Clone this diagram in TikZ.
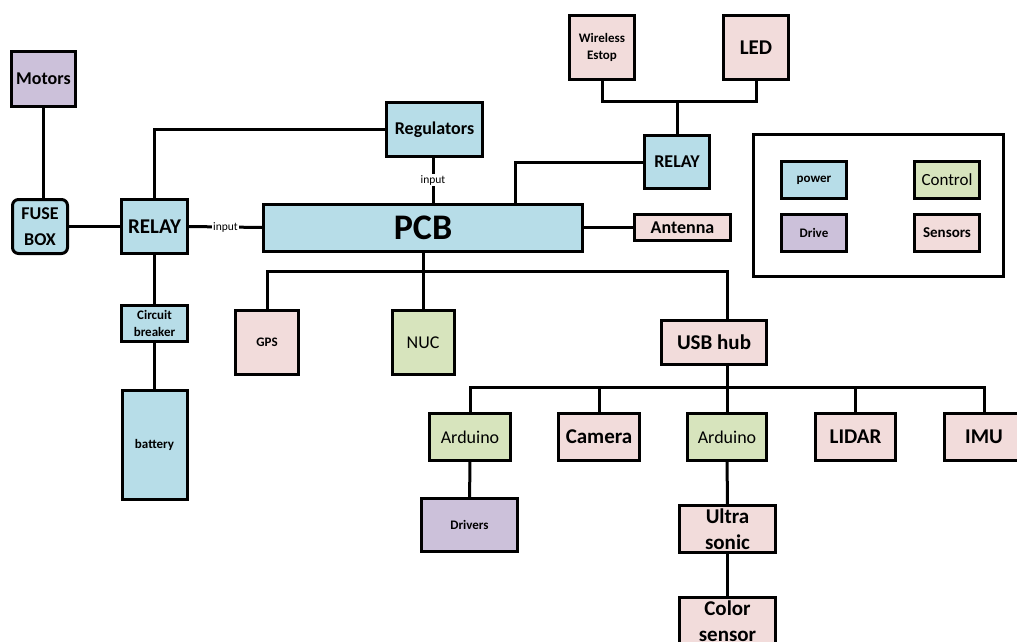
\documentclass[tikz,border=0pt]{standalone}
\usepackage{fontspec}
\setmainfont{Carlito}
\definecolor{powerblue}{HTML}{B7DDE8}
\definecolor{ctrlgreen}{HTML}{D7E4BD}
\definecolor{drivepurple}{HTML}{CCC1DA}
\definecolor{sensorpink}{HTML}{F2DCDB}
\tikzset{
    blk/.style={draw, line width=3pt, inner sep=1pt, align=center, font=\bfseries\fontsize{18}{26}\selectfont},
    pwr/.style={blk, fill=powerblue},
    ctrl/.style={blk, fill=ctrlgreen},
    drv/.style={blk, fill=drivepurple},
    sens/.style={blk, fill=sensorpink},
    wire/.style={draw, line width=3pt},
    inlbl/.style={fill=white, inner sep=1pt, font=\fontsize{11.5}{12}\selectfont},
    big/.style={font=\bfseries\fontsize{21}{26}\selectfont},
    small/.style={font=\bfseries\fontsize{13}{16.5}\selectfont},
    thin/.style={font=\fontsize{18}{22}\selectfont}
}
\begin{document}
\begin{tikzpicture}[x=1pt, y=-1pt]
            \useasboundingbox (0,0) rectangle (1017,642);
            \node [drv, minimum width=64pt, minimum height=55pt] (motors) at (43.5,79) {Motors};
            \node [pwr, rounded corners=6pt, minimum width=55pt, minimum height=54pt] (fusebox) at (40,226.5) {FUSE\\BOX};
            \node [pwr, big, minimum width=66pt, minimum height=54pt] (relayL) at (154.5,226.5) {RELAY};
            \node [pwr, small, minimum width=66pt, minimum height=36pt] (breaker) at (154.5,323.5) {Circuit\\breaker};
            \node [pwr, small, minimum width=65pt, minimum height=109pt] (battery) at (154.5,445) {battery};
            \node [pwr, minimum width=96pt, minimum height=54pt] (regulators) at (434.5,129.5) {Regulators};
            \node [pwr, font=\bfseries\fontsize{36}{40}\selectfont, minimum width=319pt, minimum height=47pt] (pcb) at (423,227.5) {PCB};
            \node [sens, small, minimum width=65pt, minimum height=64pt] (estop) at (602,47.5) {Wireless\\Estop};
            \node [sens, big, minimum width=65pt, minimum height=64pt] (led) at (756,47.5) {LED};
            \node [pwr, minimum width=65pt, minimum height=53pt] (relayR) at (677,162) {RELAY};
            \node [sens, minimum width=96pt, minimum height=26pt] (antenna) at (682.5,227.5) {Antenna};
            \node [draw, line width=3pt, minimum width=250pt, minimum height=142pt] (legend) at (878.5,205.5) {};
            \node [pwr, small, minimum width=65pt, minimum height=37pt] (kpower) at (814,180) {power};
            \node [ctrl, font=\fontsize{17}{20}\selectfont, minimum width=65pt, minimum height=37pt] (kcontrol) at (947,180) {Control};
            \node [drv, small, minimum width=65pt, minimum height=37pt] (kdrive) at (814,233) {Drive};
            \node [sens, font=\bfseries\fontsize{15}{18}\selectfont, minimum width=65pt, minimum height=37pt] (ksensors) at (947,233) {Sensors};
            \node [sens, small, minimum width=63pt, minimum height=64pt] (gps) at (267,342.5) {GPS};
            \node [ctrl, thin, minimum width=62pt, minimum height=64pt] (nuc) at (423,342.5) {NUC};
            \node [sens, big, minimum width=105pt, minimum height=44pt] (usbhub) at (714,342.5) {USB hub};
            \node [ctrl, thin, minimum width=81pt, minimum height=47pt] (arduinoA) at (470,437) {Arduino};
            \node [sens, big, minimum width=81pt, minimum height=47pt] (camera) at (599,437) {Camera};
            \node [ctrl, thin, minimum width=79pt, minimum height=47pt] (arduinoB) at (727,437) {Arduino};
            \node [sens, big, minimum width=80pt, minimum height=47pt] (lidar) at (855.5,437) {LIDAR};
            \node [sens, big, minimum width=80pt, minimum height=47pt] (imu) at (984,437) {IMU};
            \node [drv, small, minimum width=96pt, minimum height=53pt] (drivers) at (469.5,525) {Drivers};
            \node [sens, big, minimum width=96pt, minimum height=47pt] (ultra) at (727.5,529) {Ultra\\sonic};
            \node [sens, big, minimum width=96pt, minimum height=47pt] (color) at (727.5,621) {Color\\sensor};
            \coordinate (pcbtap) at (515,203);
            \coordinate (topbus) at (677,101);
            \coordinate (pcbbus) at (423,271);
            \coordinate (hubin) at (727,319);
            \coordinate (hubout) at (727,366);
            \coordinate (lowbus) at (727,387);
            \path [wire] (motors.south) -- (fusebox.north -| motors.south);
            \path [wire] (fusebox) edge (relayL);
            \path [wire] (relayL.north) |- (regulators.west);
            \path [wire] (relayL.east) -- node [inlbl] {input} (pcb.west);
            \path [wire] (regulators.south -| 433,0) -- node [inlbl] {input} (pcb.north -| 433,0);
            \path [wire] (relayL) edge (breaker);
            \path [wire] (breaker) edge (battery);
            \path [wire] (pcbtap) |- (relayR.west);
            \path [wire] (relayR.north) -- (topbus);
            \path [wire] (estop.south) |- (topbus) -| (led.south);
            \path [wire] (pcb.east) -- (antenna.west);
            \path [wire] (pcb.south) -- (pcbbus);
            \path [wire] (gps.north) |- (pcbbus) -| (hubin);
            \path [wire] (nuc.north) -- (pcbbus);
            \path [wire] (hubout) -- (lowbus);
            \path [wire] (arduinoA.north) |- (lowbus) -| (imu.north);
            \path [wire] (camera.north) -- (camera.north |- lowbus);
            \path [wire] (arduinoB.north) -- (lowbus);
            \path [wire] (lidar.north) -- (lidar.north |- lowbus);
            \path [wire] (arduinoA) edge (drivers);
            \path [wire] (arduinoB) edge (ultra);
            \path [wire] (ultra) edge (color);
        \end{tikzpicture}
\end{document}
